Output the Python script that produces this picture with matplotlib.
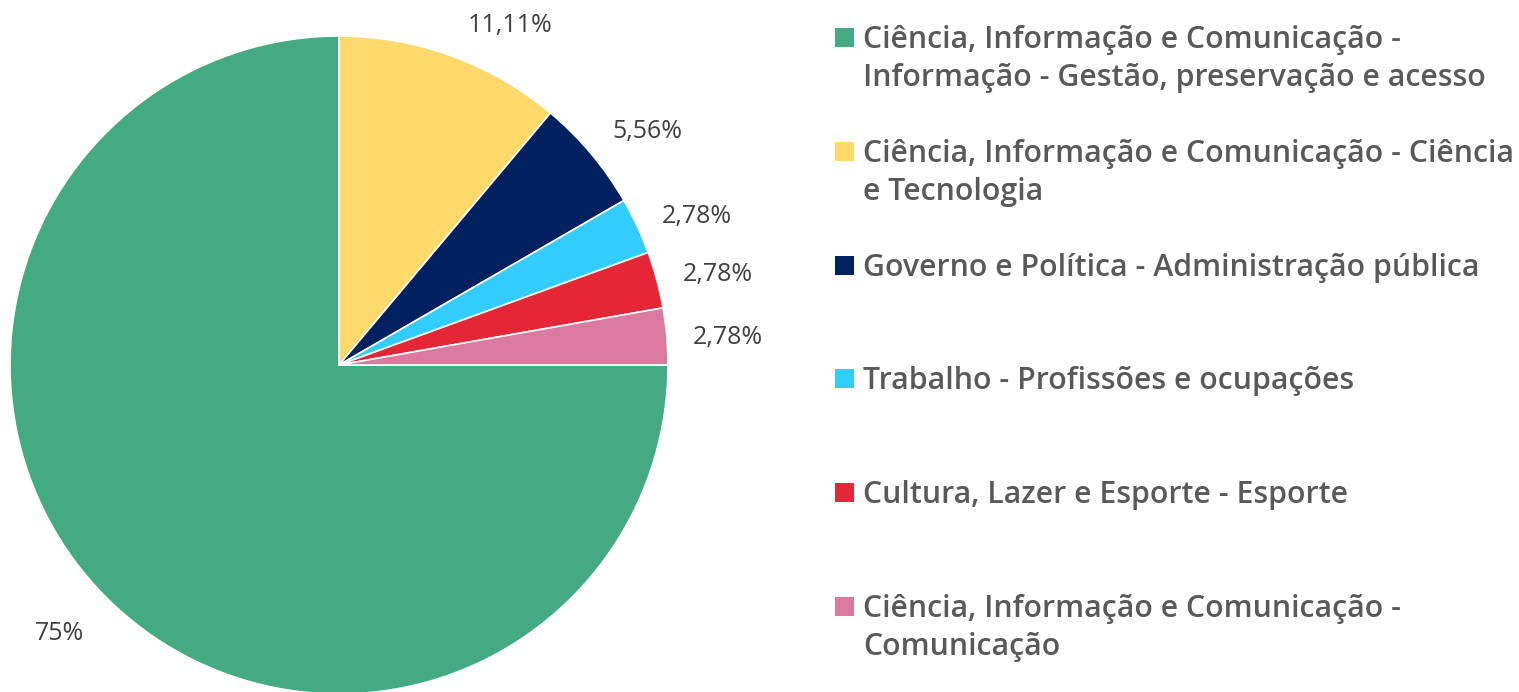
import matplotlib
matplotlib.use("Agg")
import matplotlib.pyplot as plt
from matplotlib.patches import Rectangle
import numpy as np

categories = [
    ["Ciência, Informação e Comunicação -", "Informação - Gestão, preservação e acesso"],
    ["Ciência, Informação e Comunicação - Ciência", "e Tecnologia"],
    ["Governo e Política - Administração pública"],
    ["Trabalho - Profissões e ocupações"],
    ["Cultura, Lazer e Esporte - Esporte"],
    ["Ciência, Informação e Comunicação -", "Comunicação"],
]
values = [27, 4, 2, 1, 1, 1]
colors = ["#43AA82", "#FDD86B", "#002060", "#33CCFF", "#E52637", "#DC799F"]

# label placement (layout only): radius (in pie radii) and angle in degrees
label_radius = [1.172, 1.163, 1.183, 1.182, 1.186, 1.186]
label_angle = [223.6, 63.4, 37.5, 23.0, 13.8, 4.5]

W, H = 1519, 692
fig = plt.figure(figsize=(W / 100, H / 100), dpi=100)

cx, cy, R = 339, 365, 329
ax = fig.add_axes([(cx - R) / W, (H - cy - R) / H, 2 * R / W, 2 * R / H])


def pct_fmt(p):
    s = f"{p:.2f}".rstrip("0").rstrip(".")
    return s.replace(".", ",") + "%"


wedges, texts, autotexts = ax.pie(
    values, colors=colors, startangle=0, counterclock=False,
    autopct=pct_fmt, pctdistance=1.18,
    wedgeprops=dict(edgecolor="white", linewidth=1.2),
    textprops=dict(fontsize=18, color="#404040", family="Open Sans"),
)
for t, r, a in zip(autotexts, label_radius, label_angle):
    ang = np.deg2rad(a)
    t.set_position((r * np.cos(ang), r * np.sin(ang)))
    t.set_ha("center")
    t.set_va("center_baseline")
ax.set_xlim(-1, 1)
ax.set_ylim(-1, 1)
ax.set_aspect("auto")
ax.axis("off")

# legend drawn manually
first_base = 48
step = 113.8
line_gap = 38
sq = 19
for i, (lines, col) in enumerate(zip(categories, colors)):
    base = first_base + i * step
    fig.patches.append(Rectangle((835 / W, (H - base + 1) / H), sq / W, sq / H,
                                 transform=fig.transFigure, facecolor=col,
                                 edgecolor="none"))
    for j, ln in enumerate(lines):
        fig.text(863 / W, (H - base - j * line_gap) / H, ln, ha="left", va="baseline",
                 fontsize=21.8, fontweight="semibold", color="#595959", family="Open Sans")

fig.savefig("out.png", dpi=100)
